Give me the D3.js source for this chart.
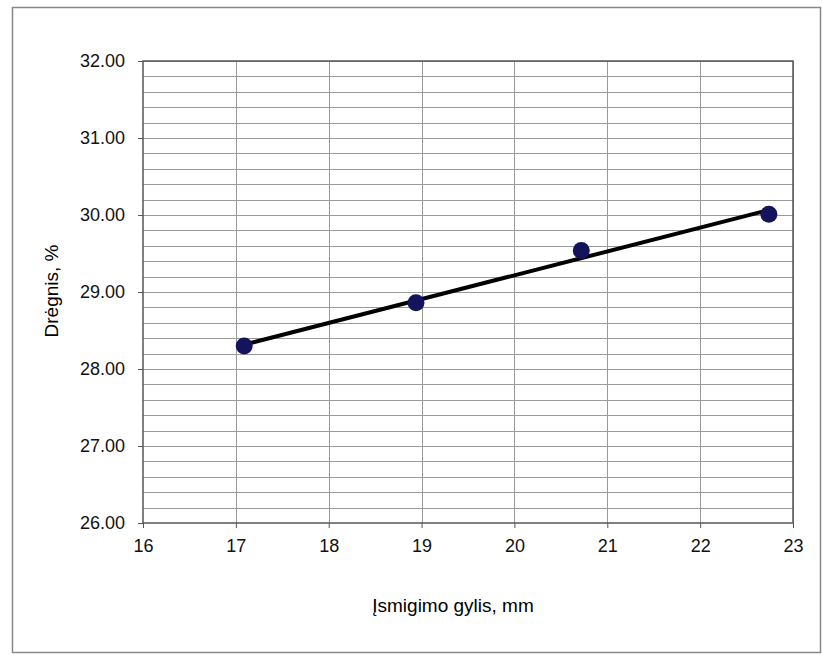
<!DOCTYPE html>
<meta charset="utf-8">
<style>
body { margin: 0; background: #fff; }
svg { font-family: "Liberation Sans", Arial, sans-serif; }
.axis text { font-size: 18px; fill: #111; }
.axis path, .axis line { stroke: #555; }
.grid line { stroke: #9a9a9a; stroke-width: 1; }
</style>
<body>
<div id="chart"></div>
<script src="https://cdn.jsdelivr.net/npm/d3@7"></script>
<script>
var depth = [17.09, 18.94, 20.72, 22.74];
var moisture = [28.30, 28.86, 29.54, 30.01];
var xTicks = [16, 17, 18, 19, 20, 21, 22, 23];
var yTicks = [26, 27, 28, 29, 30, 31, 32];

var W = 822, H = 656,
    margin = { top: 61, right: 29, bottom: 133, left: 143 },
    width = W - margin.left - margin.right,
    height = H - margin.top - margin.bottom;

var svg = d3.select("#chart").append("svg")
    .attr("width", W)
    .attr("height", H);

// outer frame
svg.append("rect")
    .attr("x", 12.5).attr("y", 7.5)
    .attr("width", 808).attr("height", 645)
    .attr("fill", "none")
    .attr("stroke", "#888")
    .attr("stroke-width", 1.5);

var g = svg.append("g")
    .attr("transform", "translate(" + margin.left + "," + margin.top + ")");

var x = d3.scaleLinear().domain([16, 23]).range([0, width]);
var y = d3.scaleLinear().domain([26, 32]).range([height, 0]);

// horizontal grid every 0.2
var hLines = d3.range(26.2, 32.0, 0.2);
g.append("g").attr("class", "grid")
    .selectAll("line")
    .data(hLines)
    .enter().append("line")
    .attr("x1", 0).attr("x2", width)
    .attr("y1", function(d) { return Math.round(y(d)) + 0.5; })
    .attr("y2", function(d) { return Math.round(y(d)) + 0.5; });

// vertical grid at integers
g.append("g").attr("class", "grid")
    .selectAll("line")
    .data(xTicks.slice(1))
    .enter().append("line")
    .attr("y1", 0).attr("y2", height)
    .attr("x1", function(d) { return Math.round(x(d)) + 0.5; })
    .attr("x2", function(d) { return Math.round(x(d)) + 0.5; });

// plot border
g.append("rect")
    .attr("x", 0).attr("y", 0)
    .attr("width", width).attr("height", height)
    .attr("fill", "none")
    .attr("stroke", "#555")
    .attr("stroke-width", 1.5);

g.append("g")
    .attr("class", "axis")
    .attr("transform", "translate(0," + height + ")")
    .call(d3.axisBottom(x).tickValues(xTicks).tickFormat(d3.format("d")).tickSize(5).tickPadding(11))
    .call(function(a) { a.select(".domain").remove(); });

g.append("g")
    .attr("class", "axis")
    .call(d3.axisLeft(y).tickValues(yTicks).tickFormat(d3.format(".2f")).tickSize(5).tickPadding(13))
    .call(function(a) { a.select(".domain").remove(); });

// linear trend line (least squares)
var mx = d3.mean(depth), my = d3.mean(moisture);
var sxy = d3.sum(depth, function(d, i) { return (d - mx) * (moisture[i] - my); });
var sxx = d3.sum(depth, function(d) { return (d - mx) * (d - mx); });
var slope = sxy / sxx, icpt = my - slope * mx;
var x0 = d3.min(depth), x1 = d3.max(depth);

g.append("line")
    .attr("x1", x(x0)).attr("y1", y(icpt + slope * x0))
    .attr("x2", x(x1)).attr("y2", y(icpt + slope * x1))
    .attr("stroke", "#000")
    .attr("stroke-width", 4)
    .attr("stroke-linecap", "round");

g.selectAll(".pt")
    .data(depth)
    .enter().append("circle")
    .attr("class", "pt")
    .attr("cx", function(d) { return x(d); })
    .attr("cy", function(d, i) { return y(moisture[i]); })
    .attr("r", 8.5)
    .attr("fill", "#14145c");

svg.append("text")
    .attr("x", 453).attr("y", 612)
    .attr("text-anchor", "middle")
    .style("font-size", "19px")
    .text("Įsmigimo gylis, mm");

svg.append("text")
    .attr("transform", "translate(58,291) rotate(-90)")
    .attr("text-anchor", "middle")
    .style("font-size", "19px")
    .text("Drėgnis, %");
</script>
</body>
